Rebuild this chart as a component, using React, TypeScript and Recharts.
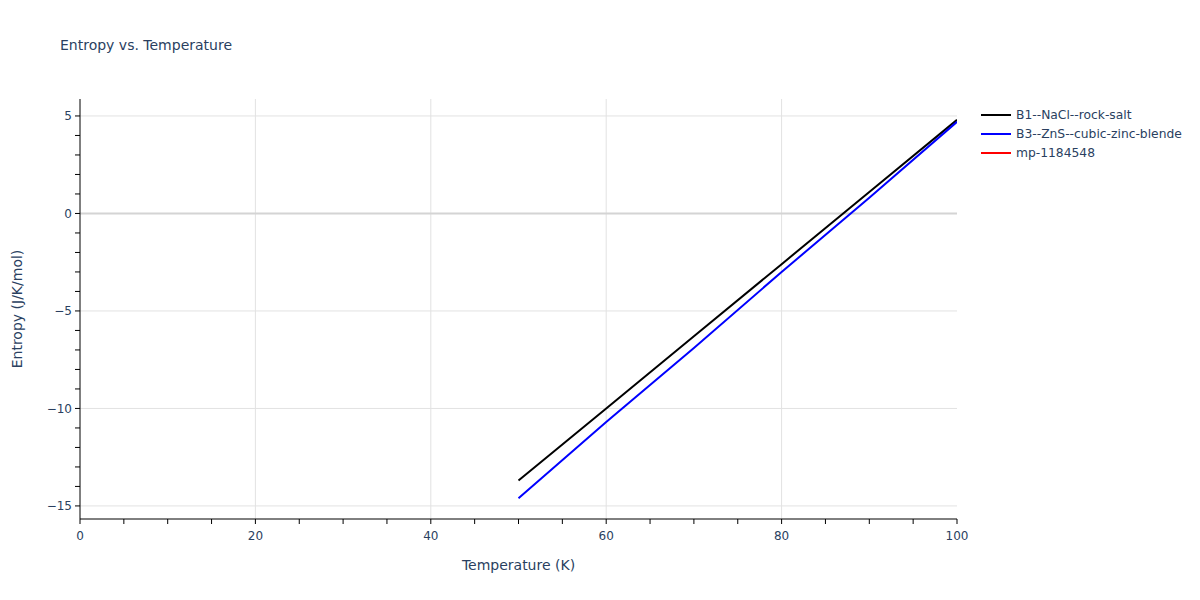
import React from 'react';
import { LineChart, Line, XAxis, YAxis, ReferenceLine } from 'recharts';

const temperature = [50, 60, 70, 80, 90, 100];
const rockSalt = [-13.7, -10.0, -6.3, -2.6, 1.1, 4.8];
const zincBlende = [-14.6, -10.7, -6.9, -3.0, 0.8, 4.7];
const mp1184548: number[] = [];

const xTicks = [0, 5, 10, 15, 20, 25, 30, 35, 40, 45, 50, 55, 60, 65, 70, 75, 80, 85, 90, 95, 100];
const xLabels = [0, 20, 40, 60, 80, 100];
const yTicks = [-15, -14, -13, -12, -11, -10, -9, -8, -7, -6, -5, -4, -3, -2, -1, 0, 1, 2, 3, 4, 5];
const yLabels = [-15, -10, -5, 0, 5];

const series = [
  { name: 'B1--NaCl--rock-salt', color: '#000000', values: rockSalt },
  { name: 'B3--ZnS--cubic-zinc-blende', color: '#0000ff', values: zincBlende },
  { name: 'mp-1184548', color: '#ff0000', values: mp1184548 },
];

const FONT = '"DejaVu Sans", verdana, arial, sans-serif';
const TXT = '#2a3f5f';

function fmt(v: number) {
  return v < 0 ? `\u2212${Math.abs(v)}` : `${v}`;
}

const XTick = ({ x, y, payload }: any) =>
  xLabels.includes(payload.value) ? (
    <text x={x} y={y} dy="0.71em" textAnchor="middle" fill={TXT} fontSize={12} fontFamily={FONT}>
      {fmt(payload.value)}
    </text>
  ) : null;

const YTick = ({ x, y, payload }: any) =>
  yLabels.includes(payload.value) ? (
    <text x={x} y={y} dy="0.35em" textAnchor="end" fill={TXT} fontSize={12} fontFamily={FONT}>
      {fmt(payload.value)}
    </text>
  ) : null;

export default function App() {
  return (
    <div style={{ position: 'absolute', left: 0, top: 0, width: 1200, height: 600, background: '#fff' }}>
      <div style={{ position: 'absolute', left: 60, top: 37, fontFamily: FONT, fontSize: 14, color: TXT }}>
        Entropy vs. Temperature
      </div>
      <div style={{ position: 'absolute', left: 981, top: 105, fontFamily: FONT, fontSize: 12.3, color: TXT }}>
        {series.map(s => (
          <div key={s.name} style={{ display: 'flex', alignItems: 'center', height: 19 }}>
            <span style={{ display: 'inline-block', width: 30, height: 2, background: s.color, marginRight: 5 }} />
            {s.name}
          </div>
        ))}
      </div>
      <LineChart width={1200} height={600} margin={{ top: 99, right: 243, bottom: 0, left: 0 }}>
        <XAxis
          type="number"
          dataKey="t"
          domain={[0, 100]}
          ticks={xTicks}
          interval={0}
          tick={<XTick />}
          tickSize={5}
          tickMargin={7}
          tickLine={{ stroke: '#000' }}
          axisLine={{ stroke: '#000' }}
          height={81}
          allowDataOverflow
          label={{ value: 'Temperature (K)', position: 'insideBottom', offset: 30, fill: TXT, fontSize: 14, fontFamily: FONT }}
        />
        <YAxis
          type="number"
          domain={[-15.67, 5.87]}
          ticks={yTicks}
          interval={0}
          tick={<YTick />}
          tickSize={5}
          tickMargin={3}
          tickLine={{ stroke: '#000' }}
          axisLine={{ stroke: '#000' }}
          width={80}
          allowDataOverflow
          label={{ value: 'Entropy (J/K/mol)', angle: -90, position: 'insideLeft', offset: 17, fill: TXT, fontSize: 14, fontFamily: FONT, style: { textAnchor: 'middle' } }}
        />
        {[20, 40, 60, 80].map(v => (
          <ReferenceLine key={'x' + v} x={v} stroke="#e2e2e2" strokeWidth={1} />
        ))}
        {[-15, -10, -5, 5].map(v => (
          <ReferenceLine key={'y' + v} y={v} stroke="#e2e2e2" strokeWidth={1} />
        ))}
        <ReferenceLine y={0} stroke="#d4d4d4" strokeWidth={2} />
        {series.map(s => (
          <Line
            key={s.name}
            name={s.name}
            data={s.values.map((v, i) => ({ t: temperature[i], s: v }))}
            dataKey="s"
            stroke={s.color}
            strokeWidth={2}
            dot={false}
            isAnimationActive={false}
          />
        ))}
      </LineChart>
    </div>
  );
}
